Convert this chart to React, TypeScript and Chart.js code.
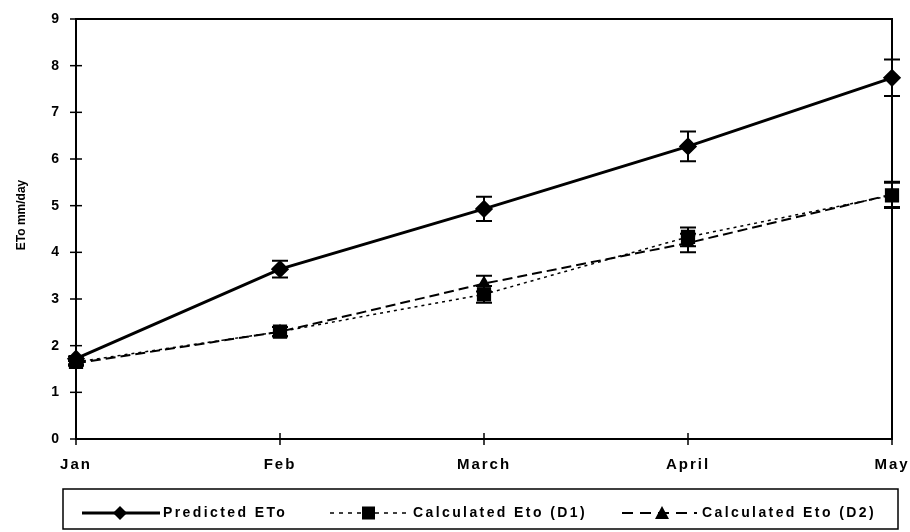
import React, { useEffect, useRef } from 'react';
import { Chart, registerables } from 'chart.js';

Chart.register(...registerables);

// ---- data ----
const months = ['Jan', 'Feb', 'March', 'April', 'May'];
const predicted = [1.72, 3.64, 4.93, 6.27, 7.74];
const predictedErr = [0.05, 0.18, 0.26, 0.32, 0.39];
const calcD1 = [1.65, 2.3, 3.1, 4.33, 5.22];
const calcD1Err = [0.05, 0.1, 0.18, 0.2, 0.27];
const calcD2 = [1.62, 2.3, 3.33, 4.2, 5.24];
const calcD2Err = [0.05, 0.1, 0.17, 0.2, 0.27];
const yTitle = 'ETo mm/day';
const legendLabels = ['Predicted ETo', 'Calculated Eto (D1)', 'Calculated Eto (D2)'];

const FONT = '"Liberation Sans", Arial, sans-serif';

const errorBarPlugin = {
  id: 'errorBars',
  afterDatasetsDraw(chart: any) {
    const ctx = chart.ctx;
    const yScale = chart.scales.y;
    ctx.save();
    ctx.strokeStyle = '#000';
    ctx.lineWidth = 2;
    ctx.setLineDash([]);
    chart.data.datasets.forEach((ds: any, i: number) => {
      const meta = chart.getDatasetMeta(i);
      const errs = ds.errors || [];
      meta.data.forEach((pt: any, j: number) => {
        const v = ds.data[j];
        const e = errs[j] || 0;
        if (!e) return;
        const x = pt.x;
        const yT = yScale.getPixelForValue(v + e);
        const yB = yScale.getPixelForValue(v - e);
        const cw = 8;
        ctx.beginPath();
        ctx.moveTo(x, yT);
        ctx.lineTo(x, yB);
        ctx.moveTo(x - cw, yT);
        ctx.lineTo(x + cw, yT);
        ctx.moveTo(x - cw, yB);
        ctx.lineTo(x + cw, yB);
        ctx.stroke();
      });
    });
    ctx.restore();
  },
};

const framePlugin = {
  id: 'frame',
  beforeDraw(chart: any) {
    chart.ctx.letterSpacing = '2px';
  },
  afterDraw(chart: any) {
    const ctx = chart.ctx;
    const { left, right, top, bottom } = chart.chartArea;
    ctx.save();
    ctx.letterSpacing = '0px';
    ctx.strokeStyle = '#000';
    ctx.setLineDash([]);
    // top and right border
    ctx.lineWidth = 2;
    ctx.beginPath();
    ctx.moveTo(left, top);
    ctx.lineTo(right, top);
    ctx.lineTo(right, bottom);
    ctx.stroke();
    // crossing ticks
    ctx.lineWidth = 1.5;
    const ys = chart.scales.y;
    ys.ticks.forEach((t: any) => {
      const y = ys.getPixelForValue(t.value);
      ctx.beginPath();
      ctx.moveTo(left - 6, y);
      ctx.lineTo(left + 6, y);
      ctx.stroke();
    });
    const xs = chart.scales.x;
    xs.ticks.forEach((t: any, i: number) => {
      const x = xs.getPixelForTick(i);
      ctx.beginPath();
      ctx.moveTo(x, bottom - 6);
      ctx.lineTo(x, bottom + 6);
      ctx.stroke();
    });
    // y title
    ctx.save();
    ctx.fillStyle = '#000';
    ctx.font = `bold 12px ${FONT}`;
    ctx.textAlign = 'center';
    ctx.textBaseline = 'middle';
    ctx.translate(22, 215);
    ctx.rotate(-Math.PI / 2);
    ctx.fillText(yTitle, 0, 0);
    ctx.restore();

    // legend box
    const bx = 63, by = 489, bw = 835, bh = 40;
    ctx.lineWidth = 1.5;
    ctx.strokeRect(bx, by, bw, bh);
    const cy = 513;
    ctx.font = `bold 14px ${FONT}`;
    ctx.letterSpacing = '2.4px';
    ctx.textAlign = 'left';
    ctx.textBaseline = 'middle';
    ctx.fillStyle = '#000';

    // item 1: solid + diamond
    ctx.lineWidth = 3;
    ctx.beginPath();
    ctx.moveTo(82, cy);
    ctx.lineTo(160, cy);
    ctx.stroke();
    ctx.beginPath();
    ctx.moveTo(120, cy - 7);
    ctx.lineTo(127, cy);
    ctx.lineTo(120, cy + 7);
    ctx.lineTo(113, cy);
    ctx.closePath();
    ctx.fill();
    ctx.fillText(legendLabels[0], 163, cy);

    // item 2: dotted + square
    ctx.lineWidth = 1.5;
    ctx.setLineDash([4, 5]);
    ctx.beginPath();
    ctx.moveTo(330, cy);
    ctx.lineTo(410, cy);
    ctx.stroke();
    ctx.setLineDash([]);
    ctx.fillRect(362, cy - 6.5, 13, 13);
    ctx.fillText(legendLabels[1], 413, cy);

    // item 3: dashed + triangle
    ctx.lineWidth = 2;
    ctx.setLineDash([11, 7]);
    ctx.beginPath();
    ctx.moveTo(622, cy);
    ctx.lineTo(697, cy);
    ctx.stroke();
    ctx.setLineDash([]);
    ctx.beginPath();
    ctx.moveTo(662, cy - 7);
    ctx.lineTo(669, cy + 6);
    ctx.lineTo(655, cy + 6);
    ctx.closePath();
    ctx.fill();
    ctx.fillText(legendLabels[2], 702, cy);
    ctx.restore();
    ctx.letterSpacing = '0px';
  },
};

export default function App() {
  const ref = useRef<HTMLCanvasElement | null>(null);
  useEffect(() => {
    if (!ref.current) return;
    const chart = new Chart(ref.current, {
      type: 'line',
      data: {
        labels: months,
        datasets: [
          {
            label: legendLabels[0],
            data: predicted,
            errors: predictedErr,
            borderColor: '#000',
            backgroundColor: '#000',
            borderWidth: 3,
            pointStyle: 'rectRot',
            pointRadius: 7,
            pointBackgroundColor: '#000',
            pointBorderColor: '#000',
            tension: 0,
            clip: false,
          } as any,
          {
            label: legendLabels[1],
            data: calcD1,
            errors: calcD1Err,
            borderColor: '#000',
            backgroundColor: '#000',
            borderWidth: 1.5,
            borderDash: [3, 4],
            pointStyle: 'rect',
            pointRadius: 9,
            pointBackgroundColor: '#000',
            pointBorderColor: '#000',
            tension: 0,
            clip: false,
          } as any,
          {
            label: legendLabels[2],
            data: calcD2,
            errors: calcD2Err,
            borderColor: '#000',
            backgroundColor: '#000',
            borderWidth: 2,
            borderDash: [10, 5],
            pointStyle: 'triangle',
            pointRadius: 6,
            pointBackgroundColor: '#000',
            pointBorderColor: '#000',
            tension: 0,
            clip: false,
          } as any,
        ],
      },
      options: {
        responsive: false,
        animation: false,
        devicePixelRatio: 1,
        layout: { padding: { left: 0, right: 18, top: 19, bottom: 0 } },
        plugins: {
          legend: { display: false },
          tooltip: { enabled: false },
          title: { display: false },
        },
        scales: {
          x: {
            type: 'category',
            offset: false,
            grid: { display: false, drawTicks: false },
            border: { display: true, color: '#000', width: 2 },
            ticks: {
              color: '#000',
              font: { family: FONT, size: 15, weight: 'bold' },
              padding: 17,
              maxRotation: 0,
              autoSkip: false,
            },
            afterFit: (s: any) => {
              s.height = 93;
              s.paddingLeft = 0;
              s.paddingRight = 0;
            },
          },
          y: {
            min: 0,
            max: 9,
            grid: { display: false, drawTicks: false },
            border: { display: true, color: '#000', width: 2 },
            ticks: {
              stepSize: 1,
              color: '#000',
              font: { family: FONT, size: 14, weight: 'bold' },
              padding: 15,
            },
            afterFit: (s: any) => {
              s.width = 76;
              s.paddingTop = 0;
              s.paddingBottom = 0;
            },
          },
        },
      } as any,
      plugins: [errorBarPlugin, framePlugin],
    });
    return () => chart.destroy();
  }, []);
  return (
    <div style={{ position: 'absolute', left: 0, top: 0, width: 910, height: 532, background: '#fff' }}>
      <canvas ref={ref} width={910} height={532} style={{ width: 910, height: 532, display: 'block' }} />
    </div>
  );
}
